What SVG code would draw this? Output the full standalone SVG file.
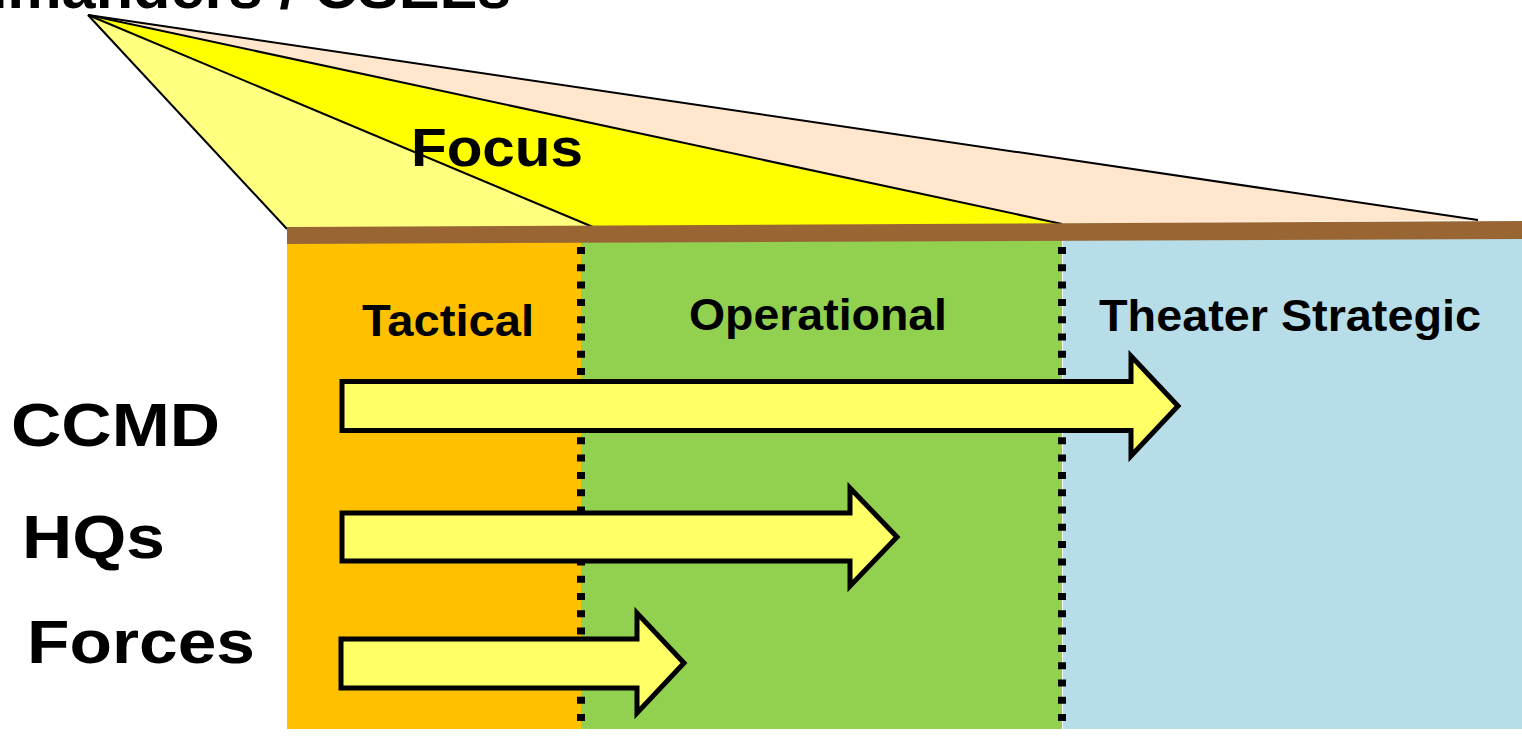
<svg xmlns="http://www.w3.org/2000/svg" width="1522" height="736" viewBox="0 0 1522 736">
  <style>
    .t { font-family: "Liberation Sans", Arial, sans-serif; font-weight: bold; fill: #000; }
    .arrow { fill: #FFFF66; stroke: #000; stroke-width: 5; stroke-linejoin: miter; }
    .edge { stroke: #000; stroke-width: 2; fill: none; }
    .dots { stroke: #000; stroke-width: 8; stroke-dasharray: 7 10.3; fill: none; }
  </style>
  <rect x="0" y="0" width="1522" height="736" fill="#FFFFFF"/>

  <g id="title">
    <text class="t" x="-129" y="8" font-size="60" textLength="640" lengthAdjust="spacingAndGlyphs">Commanders / CSELs</text>
  </g>

  <g id="focus-fan">
    <polygon points="88,15 1478,220 1062,224" fill="#FFE6CC"/>
    <polygon points="88,15 1062,224 593,227" fill="#FFFF00"/>
    <polygon points="88,15 593,227 287,229" fill="#FFFF80"/>
    <line class="edge" x1="88" y1="15" x2="287" y2="229"/>
    <line class="edge" x1="88" y1="15" x2="593" y2="227"/>
    <line class="edge" x1="88" y1="15" x2="1062" y2="224"/>
    <line class="edge" x1="88" y1="15" x2="1478" y2="220"/>
    <text class="t" x="411" y="166" font-size="54" textLength="172" lengthAdjust="spacingAndGlyphs">Focus</text>
  </g>

  <g id="zone-tactical">
    <rect x="287" y="242" width="294" height="487" fill="#FFC000"/>
    <text class="t" x="362" y="336" font-size="45" textLength="172" lengthAdjust="spacingAndGlyphs">Tactical</text>
  </g>
  <g id="zone-operational">
    <rect x="581" y="240" width="481" height="489" fill="#92D050"/>
    <text class="t" x="689" y="330" font-size="45" textLength="258" lengthAdjust="spacingAndGlyphs">Operational</text>
  </g>
  <g id="zone-theater">
    <rect x="1063" y="238" width="459" height="491" fill="#B7DEE8"/>
    <line x1="1062.5" y1="238" x2="1062.5" y2="729" stroke="#FFFFFF" stroke-width="1"/>
    <text class="t" x="1099" y="331" font-size="45" textLength="382" lengthAdjust="spacingAndGlyphs">Theater Strategic</text>
  </g>

  <g id="bar">
    <polygon points="287,227 1522,221 1522,239 287,244" fill="#996633"/>
  </g>

  <g id="dividers">
    <line class="dots" x1="581" y1="247" x2="581" y2="729"/>
    <line class="dots" x1="1062" y1="247" x2="1062" y2="729"/>
  </g>

  <g id="row-labels">
    <text class="t" x="11" y="446" font-size="61" textLength="209" lengthAdjust="spacingAndGlyphs">CCMD</text>
    <text class="t" x="22" y="558" font-size="61" textLength="143" lengthAdjust="spacingAndGlyphs">HQs</text>
    <text class="t" x="27" y="663" font-size="62" textLength="228" lengthAdjust="spacingAndGlyphs">Forces</text>
  </g>

  <g id="connectors">
    <polygon id="arrow-ccmd" class="arrow" points="342,381.5 1131,381.5 1131,356 1178,406 1131,456 1131,430.5 342,430.5"/>
    <polygon id="arrow-hqs" class="arrow" points="342,513 850,513 850,488 897,537 850,586 850,561 342,561"/>
    <polygon id="arrow-forces" class="arrow" points="341,639 637,639 637,613 684,663 637,713 637,688 341,688"/>
  </g>
</svg>
